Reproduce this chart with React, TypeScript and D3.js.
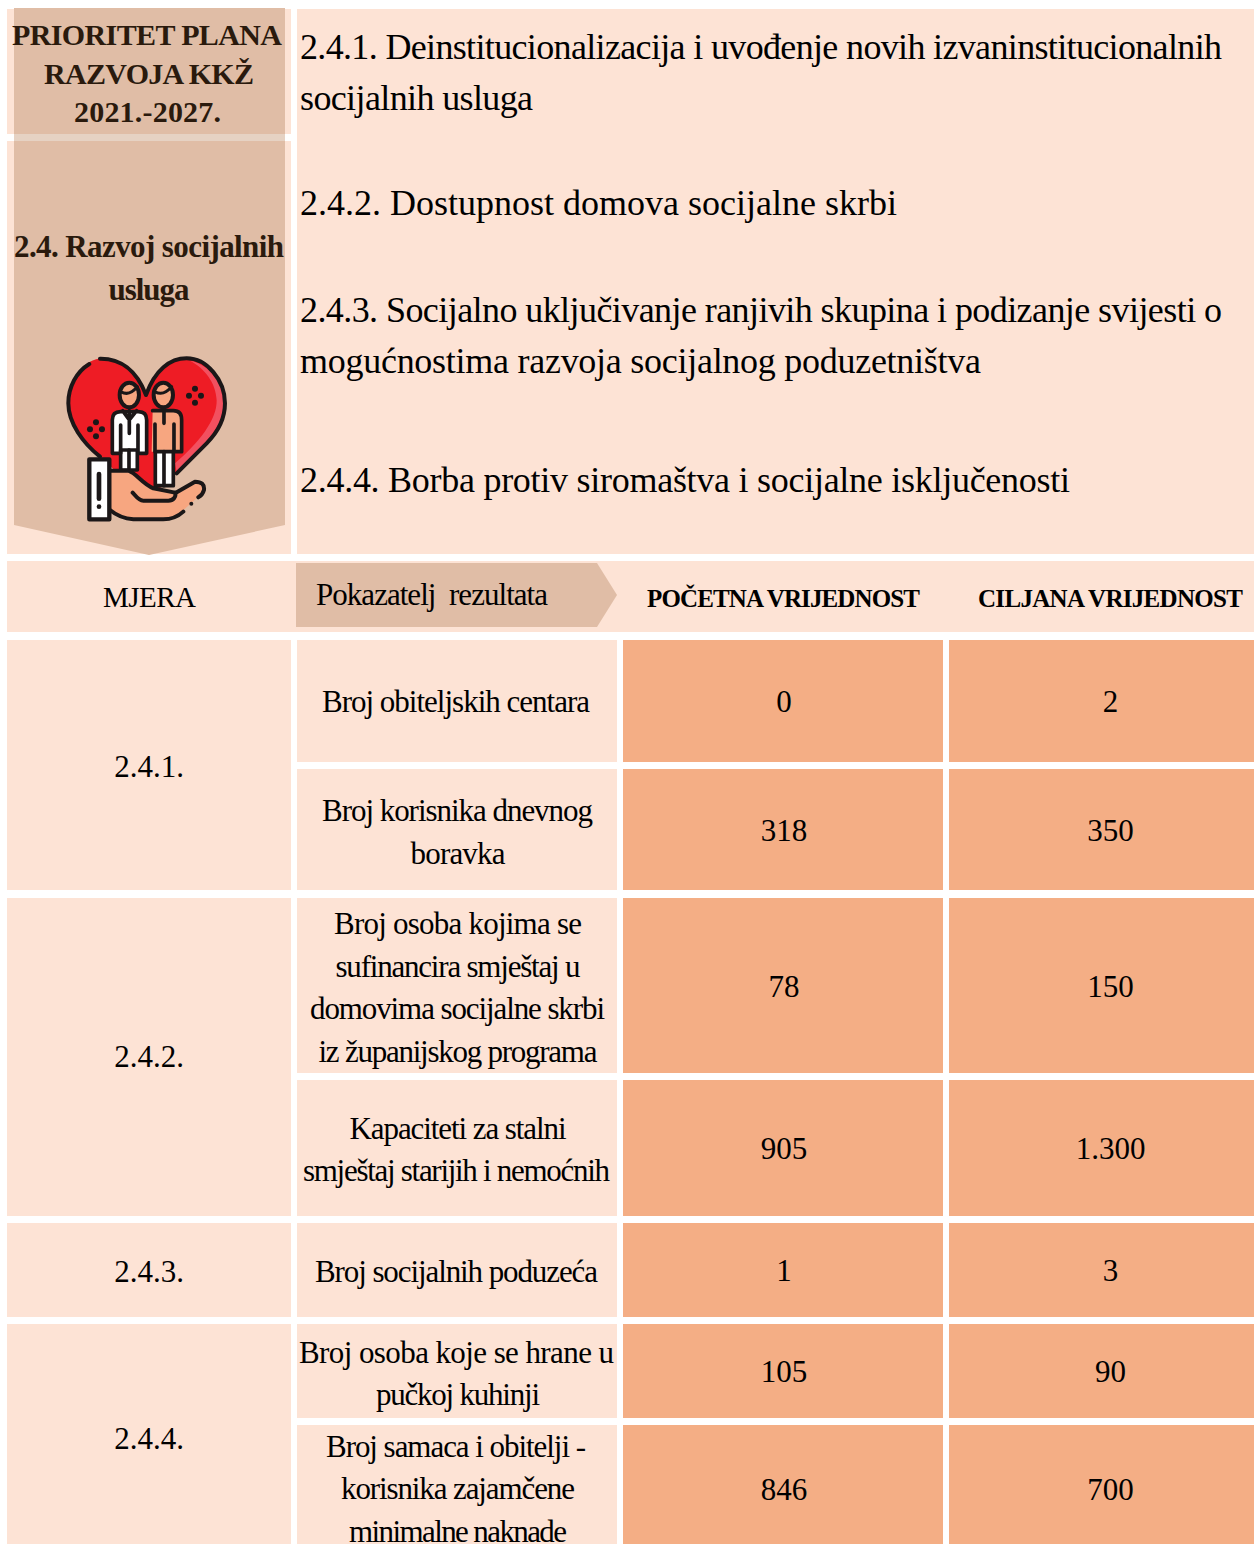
import React from 'react'
import * as d3 from 'd3'

// table content
const priorityTitle = ['PRIORITET PLANA', 'RAZVOJA KKŽ', '2021.-2027.']
const sectionTitle = ['2.4. Razvoj socijalnih', 'usluga']
const planLines = [
  ['2.4.1. Deinstitucionalizacija i uvođenje novih izvaninstitucionalnih', 'socijalnih usluga'],
  ['2.4.2. Dostupnost domova socijalne skrbi'],
  ['2.4.3. Socijalno uključivanje ranjivih skupina i podizanje svijesti o', 'mogućnostima razvoja socijalnog poduzetništva'],
  ['2.4.4. Borba protiv siromaštva i socijalne isključenosti'],
]
const headers = ['MJERA', 'Pokazatelj  rezultata', 'POČETNA VRIJEDNOST', 'CILJANA VRIJEDNOST']
const measures = ['2.4.1.', '2.4.2.', '2.4.3.', '2.4.4.']
const measureRowCount = [2, 2, 1, 2]
const indicators = [
  ['Broj obiteljskih centara'],
  ['Broj korisnika dnevnog', 'boravka'],
  ['Broj osoba kojima se', 'sufinancira smještaj u', 'domovima socijalne skrbi', 'iz županijskog programa'],
  ['Kapaciteti za stalni', 'smještaj starijih i nemoćnih'],
  ['Broj socijalnih poduzeća'],
  ['Broj osoba koje se hrane u', 'pučkoj kuhinji'],
  ['Broj samaca i obitelji -', 'korisnika zajamčene', 'minimalne naknade'],
]
const startValues = [0, 318, 78, 905, 1, 105, 846]
const targetValues = [2, 350, 150, 1300, 3, 90, 700]

// layout
const W = 1254
const H = 1544
const colEdges: [number, number][] = [[7, 291], [297, 617], [623, 943], [949, 1254]]
const rowEdges: [number, number][] = [[640, 762], [769, 890], [898, 1073], [1080, 1216], [1223, 1317], [1324, 1418], [1425, 1553]]
const colIdx = d3.scaleOrdinal<number, [number, number]>().domain(d3.range(4)).range(colEdges)
const rowIdx = d3.scaleOrdinal<number, [number, number]>().domain(d3.range(7)).range(rowEdges)

// the source is typeset tighter than Liberation Serif, so line widths are pinned
const priorityWidths = [270, 210, 147]
const sectionWidths = [270, 81]
const planWidths = [[922, 233], [597], [922, 681], [770]]
const headerWidths = [93, 232, 273, 265]
const indicatorWidths = [[268], [271, 95], [248, 245, 295, 279], [217, 307], [283], [315, 164], [260, 234, 218]]
const indicatorCenters = [[456], [457.5, 458], [458, 458, 457.5, 458], [458, 456.5], [456.5], [456.5, 458], [456, 458, 458]]
const textRowY = [701.5, 832, 987.5, 1149.5, 1272, 1373.5, 1489]
const valueColX = [784, 1110.5]

const fmt = d3.formatLocale({ decimal: ',', thousands: '.', grouping: [3], currency: ['', ''] }).format(',d')

const LIGHT = '#fde3d5'
const TAN = '#e0bda6'
const ORANGE = '#f4ae85'
const DARK = '#2a1a0d'
const FONT = '"Liberation Serif", "Times New Roman", serif'

function Icon() {
  const ink = '#1b1718'
  const skin = '#f7a680'
  return (
    <g transform="translate(0,340) scale(0.3333)" strokeLinecap="round" strokeLinejoin="round">
      <path d="M438 165C410 90 360 55 310 55C250 55 205 120 205 190C205 250 250 310 300 350L440 480L530 400L620 310C660 270 675 230 675 190C675 120 620 55 560 55C510 55 465 90 438 165Z" fill="#ee1c25" />
      <path d="M570 62C640 75 680 150 672 205C665 260 620 310 530 395L525 370C595 310 652 240 650 180C648 130 615 85 570 62Z" fill="#f2505f" />
      <path d="M438 165C410 90 360 55 300 56M268 72C230 95 205 140 205 190C205 250 250 310 300 350M530 400L620 310C660 270 675 230 675 190C675 120 620 55 560 55C510 55 465 90 438 165" fill="none" stroke={ink} strokeWidth={12} />
      {[[288, 268], [585, 167]].map(([cx, cy], i) => (
        <g key={i} fill={ink}>
          <circle cx={cx} cy={cy - 21} r={9} />
          <circle cx={cx} cy={cy + 21} r={9} />
          <circle cx={cx - 18} cy={cy} r={9} />
          <circle cx={cx + 18} cy={cy} r={9} />
        </g>
      ))}
      {/* right person */}
      <path d="M458 212H520Q545 212 545 240V335H520V435H465V335H455Z" fill={skin} />
      <rect x={466} y={335} width={54} height={102} fill="#fff" stroke={ink} strokeWidth={11} />
      <path d="M492 335V437" stroke={ink} strokeWidth={11} />
      <path d="M458 212H520Q545 212 545 240V335H522M522 252V335M465 252V335M492 212L492 250" fill="none" stroke={ink} strokeWidth={11} />
      <ellipse cx={490} cy={165} rx={29} ry={37} fill={skin} stroke={ink} strokeWidth={12} />
      <path d="M465 155Q490 170 515 140" fill="none" stroke={ink} strokeWidth={9} />
      {/* left person */}
      <path d="M365 212H415Q440 212 440 240V340H337V240Q337 212 365 212Z" fill="#fff" />
      <rect x={362} y={330} width={50} height={60} fill="#fff" stroke={ink} strokeWidth={11} />
      <path d="M387 330V390" stroke={ink} strokeWidth={11} />
      <path d="M362 215H415Q440 215 440 240V340H414M414 255V340M362 255V340M362 340H337V240Q337 215 362 215M388 212V280M388 240L410 212M388 240L368 212" fill="none" stroke={ink} strokeWidth={11} />
      <ellipse cx={388} cy={165} rx={29} ry={37} fill={skin} stroke={ink} strokeWidth={12} />
      <path d="M363 155Q388 170 412 140" fill="none" stroke={ink} strokeWidth={9} />
      {/* hand */}
      <path d="M330 392H385C410 400 425 430 460 445L525 458L585 425Q615 425 610 450L590 475L545 515Q525 538 490 538H400Q360 535 330 510Z" fill={skin} />
      <path d="M330 392H385C410 400 425 430 460 445L525 458M525 458C530 470 520 482 505 482H430C415 482 405 465 398 458M525 460L585 425Q615 425 612 450Q608 465 595 472M550 515Q525 538 490 538H400Q360 535 330 510" fill="none" stroke={ink} strokeWidth={12} />
      <circle cx={574} cy={491} r={6} fill={ink} />
      <rect x={268} y={358} width={60} height={180} fill="#fff" stroke={ink} strokeWidth={13} />
      <path d="M297 402V476" stroke={ink} strokeWidth={14} />
      <circle cx={297} cy={500} r={7} fill={ink} />
    </g>
  )
}

export default function App() {
  const center = (e: [number, number]) => (e[0] + e[1]) / 2
  const lh = 42.5
  const tableSize = 31
  const lineY = (cy: number, n: number, i: number) => cy + (i - (n - 1) / 2) * lh + 10.4

  // where each group of measure rows starts
  const measureStart = d3.cumsum([0, ...measureRowCount])

  return (
    <svg width={W} height={H} viewBox={`0 0 ${W} ${H}`} fontFamily={FONT}
      style={{ position: 'absolute', left: 0, top: 0, display: 'block' }}>
      <rect width={W} height={H} fill="#fff" />

      {/* top block */}
      <rect x={7} y={9} width={284} height={125} fill={LIGHT} />
      <rect x={7} y={141} width={284} height={413} fill={LIGHT} />
      <rect x={297} y={9} width={957} height={545} fill={LIGHT} />
      <rect x={14} y={8} width={271} height={126} fill={TAN} />
      <rect x={14} y={134} width={271} height={7} fill="#e6d2c3" />
      <path d="M14 141H285V525L149 555L14 525Z" fill={TAN} />

      {priorityTitle.map((t, i) => (
        <text key={t} x={[147, 149, 147.5][i]} y={45 + i * 38.7} textAnchor="middle" textLength={priorityWidths[i]} lengthAdjust="spacing" fontSize={30} fontWeight={700} fill={DARK}>{t}</text>
      ))}
      {sectionTitle.map((t, i) => (
        <text key={t} x={149} y={257 + i * 43} textAnchor="middle" textLength={sectionWidths[i]} lengthAdjust="spacing" fontSize={31} fontWeight={700} fill={DARK}>{t}</text>
      ))}
      <Icon />

      {planLines.map((lines, g) =>
        lines.map((t, i) => (
          <text key={t} x={300} y={[59, 215, 322, 492][g] + i * 51} textLength={planWidths[g][i]} lengthAdjust="spacing" fontSize={36} fill="#000">{t}</text>
        ))
      )}

      {/* header row */}
      <rect x={7} y={561} width={1247} height={71} fill={LIGHT} />
      <path d="M296 563H597L617 595L597 627H296Z" fill={TAN} />
      <text x={149.5} y={607} textAnchor="middle" textLength={headerWidths[0]} lengthAdjust="spacing" fontSize={29} fill="#000">{headers[0]}</text>
      <text x={316} y={605} xmlSpace="preserve" textLength={headerWidths[1]} lengthAdjust="spacing" fontSize={31} fill="#000">{headers[1]}</text>
      <text x={783.5} y={607} textAnchor="middle" textLength={headerWidths[2]} lengthAdjust="spacing" fontSize={25} fontWeight={700} fill="#000">{headers[2]}</text>
      <text x={1110.5} y={607} textAnchor="middle" textLength={headerWidths[3]} lengthAdjust="spacing" fontSize={25} fontWeight={700} fill="#000">{headers[3]}</text>

      {/* measure column */}
      {measures.map((m, k) => {
        const top = rowIdx(measureStart[k])[0]
        const bottom = rowIdx(measureStart[k] + measureRowCount[k] - 1)[1]
        return (
          <g key={m}>
            <rect x={colIdx(0)[0]} y={top} width={colIdx(0)[1] - colIdx(0)[0]} height={bottom - top} fill={LIGHT} />
            <text x={center(colIdx(0))} y={[777, 1067, 1282, 1449][k]} textAnchor="middle" fontSize={tableSize} fill="#000">{m}</text>
          </g>
        )
      })}

      {/* indicator rows */}
      {indicators.map((lines, r) => {
        const [y0, y1] = rowIdx(r)
        const cy = (y0 + y1) / 2
        return (
          <g key={r}>
            <rect x={colIdx(1)[0]} y={y0} width={colIdx(1)[1] - colIdx(1)[0]} height={y1 - y0} fill={LIGHT} />
            <rect x={colIdx(2)[0]} y={y0} width={colIdx(2)[1] - colIdx(2)[0]} height={y1 - y0} fill={ORANGE} />
            <rect x={colIdx(3)[0]} y={y0} width={colIdx(3)[1] - colIdx(3)[0]} height={y1 - y0} fill={ORANGE} />
            {lines.map((t, i) => (
              <text key={t} x={indicatorCenters[r][i]} y={lineY(textRowY[r], lines.length, i)} textAnchor="middle" textLength={indicatorWidths[r][i]} lengthAdjust="spacing" fontSize={tableSize} fill="#000">{t}</text>
            ))}
            <text x={valueColX[0]} y={cy + 11} textAnchor="middle" fontSize={31} fill="#000">{fmt(startValues[r])}</text>
            <text x={valueColX[1]} y={cy + 11} textAnchor="middle" fontSize={31} fill="#000">{fmt(targetValues[r])}</text>
          </g>
        )
      })}
    </svg>
  )
}
